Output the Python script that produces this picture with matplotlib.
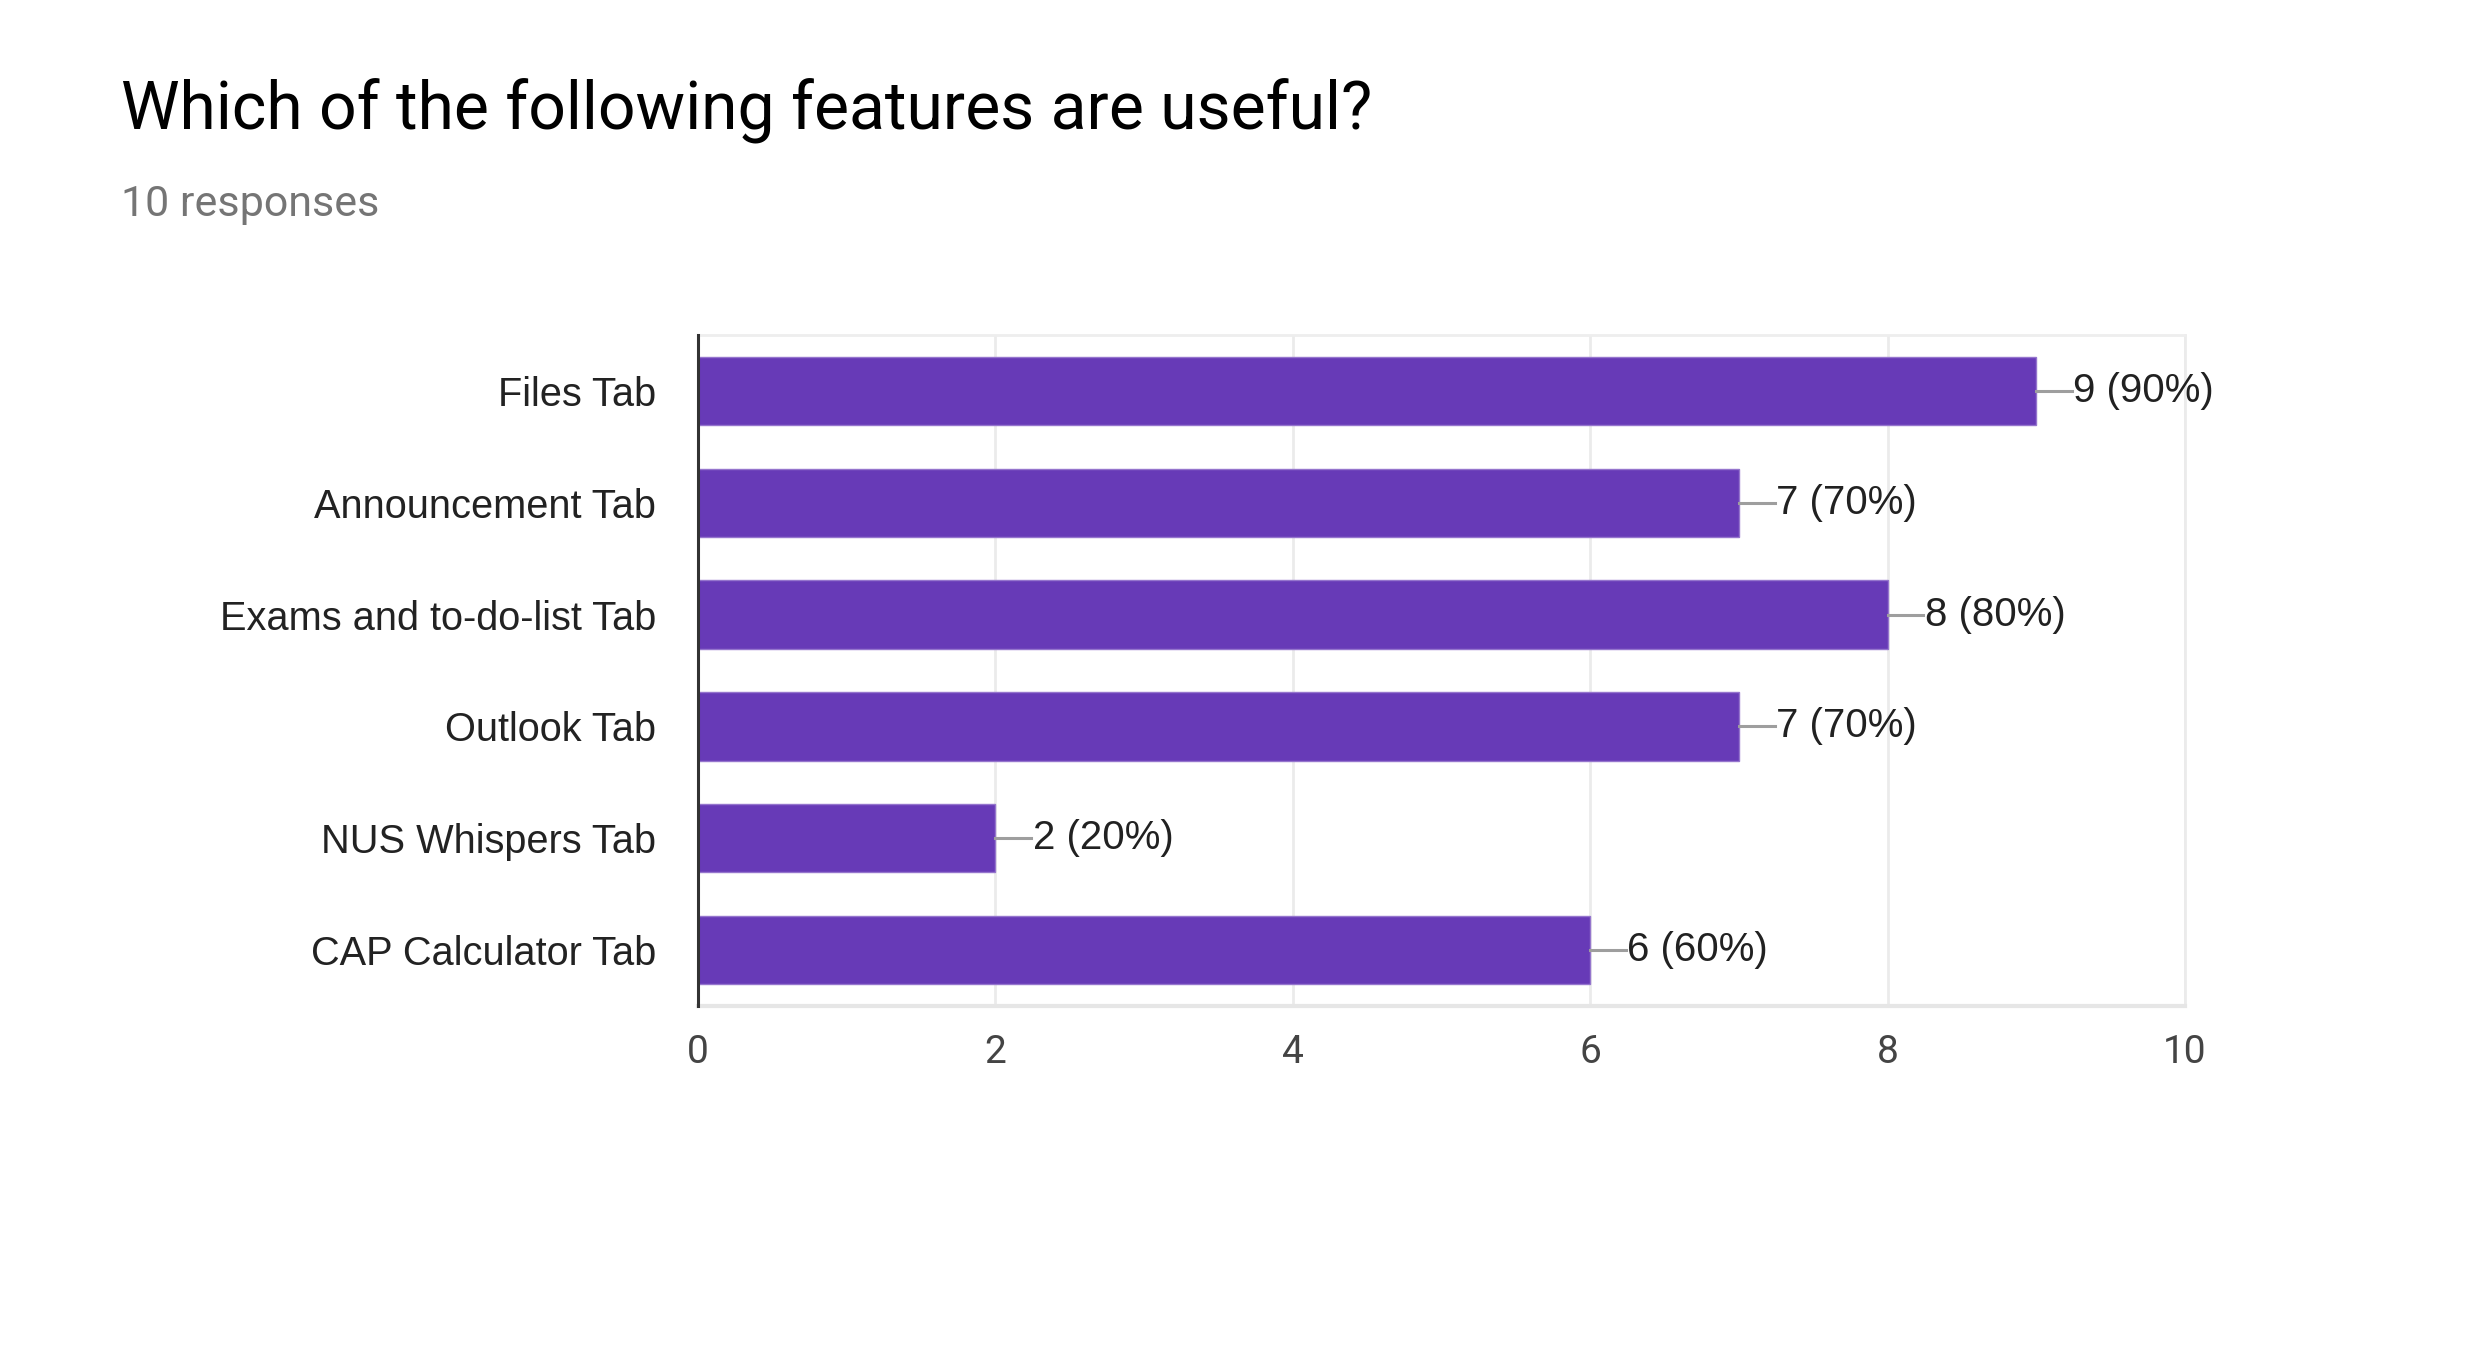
import numpy as np
import matplotlib.pyplot as plt

# datos de la encuesta
features = ['Files Tab', 'Announcement Tab', 'Exams and to-do-list Tab',
            'Outlook Tab', 'NUS Whispers Tab', 'CAP Calculator Tab']
counts = [9, 7, 8, 7, 2, 6]
total = 10
xticks = [0, 2, 4, 6, 8, 10]

fig = plt.figure(figsize=(24.81, 13.61), dpi=100)
ax = fig.add_axes([0.2813, 0.2608, 0.5994, 0.4931])

y = np.arange(len(features))
ax.barh(y, counts, height=0.61, color='#673ab7', edgecolor='#9575cd', linewidth=1, zorder=3)

for i, c in enumerate(counts):
    ax.plot([c, c + 0.24], [i, i], color='#9e9e9e', lw=2.2, zorder=4)
    ax.text(c + 0.25, i, f'{c} ({c * 100 // total}%)', ha='left', va='center',
            fontsize=29, color='#212121', family='Liberation Sans', zorder=5)

ax.set_xlim(0, 10)
ax.set_ylim(len(features) - 0.5, -0.5)
ax.set_xticks(xticks)
ax.set_xticklabels([str(t) for t in xticks], fontsize=28, color='#444444', family='Roboto')
ax.set_yticks(y)
ax.set_yticklabels(features, fontsize=28.6, color='#222222', family='Liberation Sans')
ax.tick_params(axis='both', length=0)
ax.tick_params(axis='x', pad=20)
ax.tick_params(axis='y', pad=30)

ax.grid(axis='x', color='#ebebeb', lw=2, zorder=0)
ax.spines['left'].set_color('#333333')
ax.spines['left'].set_linewidth(2.2)
ax.spines['left'].set_zorder(6)
ax.spines['bottom'].set_color('#e6e6e6')
ax.spines['bottom'].set_linewidth(3)
ax.spines['top'].set_color('#eeeeee')
ax.spines['top'].set_linewidth(2)
ax.spines['right'].set_color('#ebebeb')
ax.spines['right'].set_linewidth(2)

fig.text(0.0488, 0.905, 'Which of the following features are useful?', fontsize=47.5,
         color='#000000', family='Roboto', ha='left', va='baseline')
fig.text(0.0488, 0.841, '10 responses', fontsize=31, color='#757575',
         family='Roboto', ha='left', va='baseline')

fig.savefig('out.png', dpi=100)
